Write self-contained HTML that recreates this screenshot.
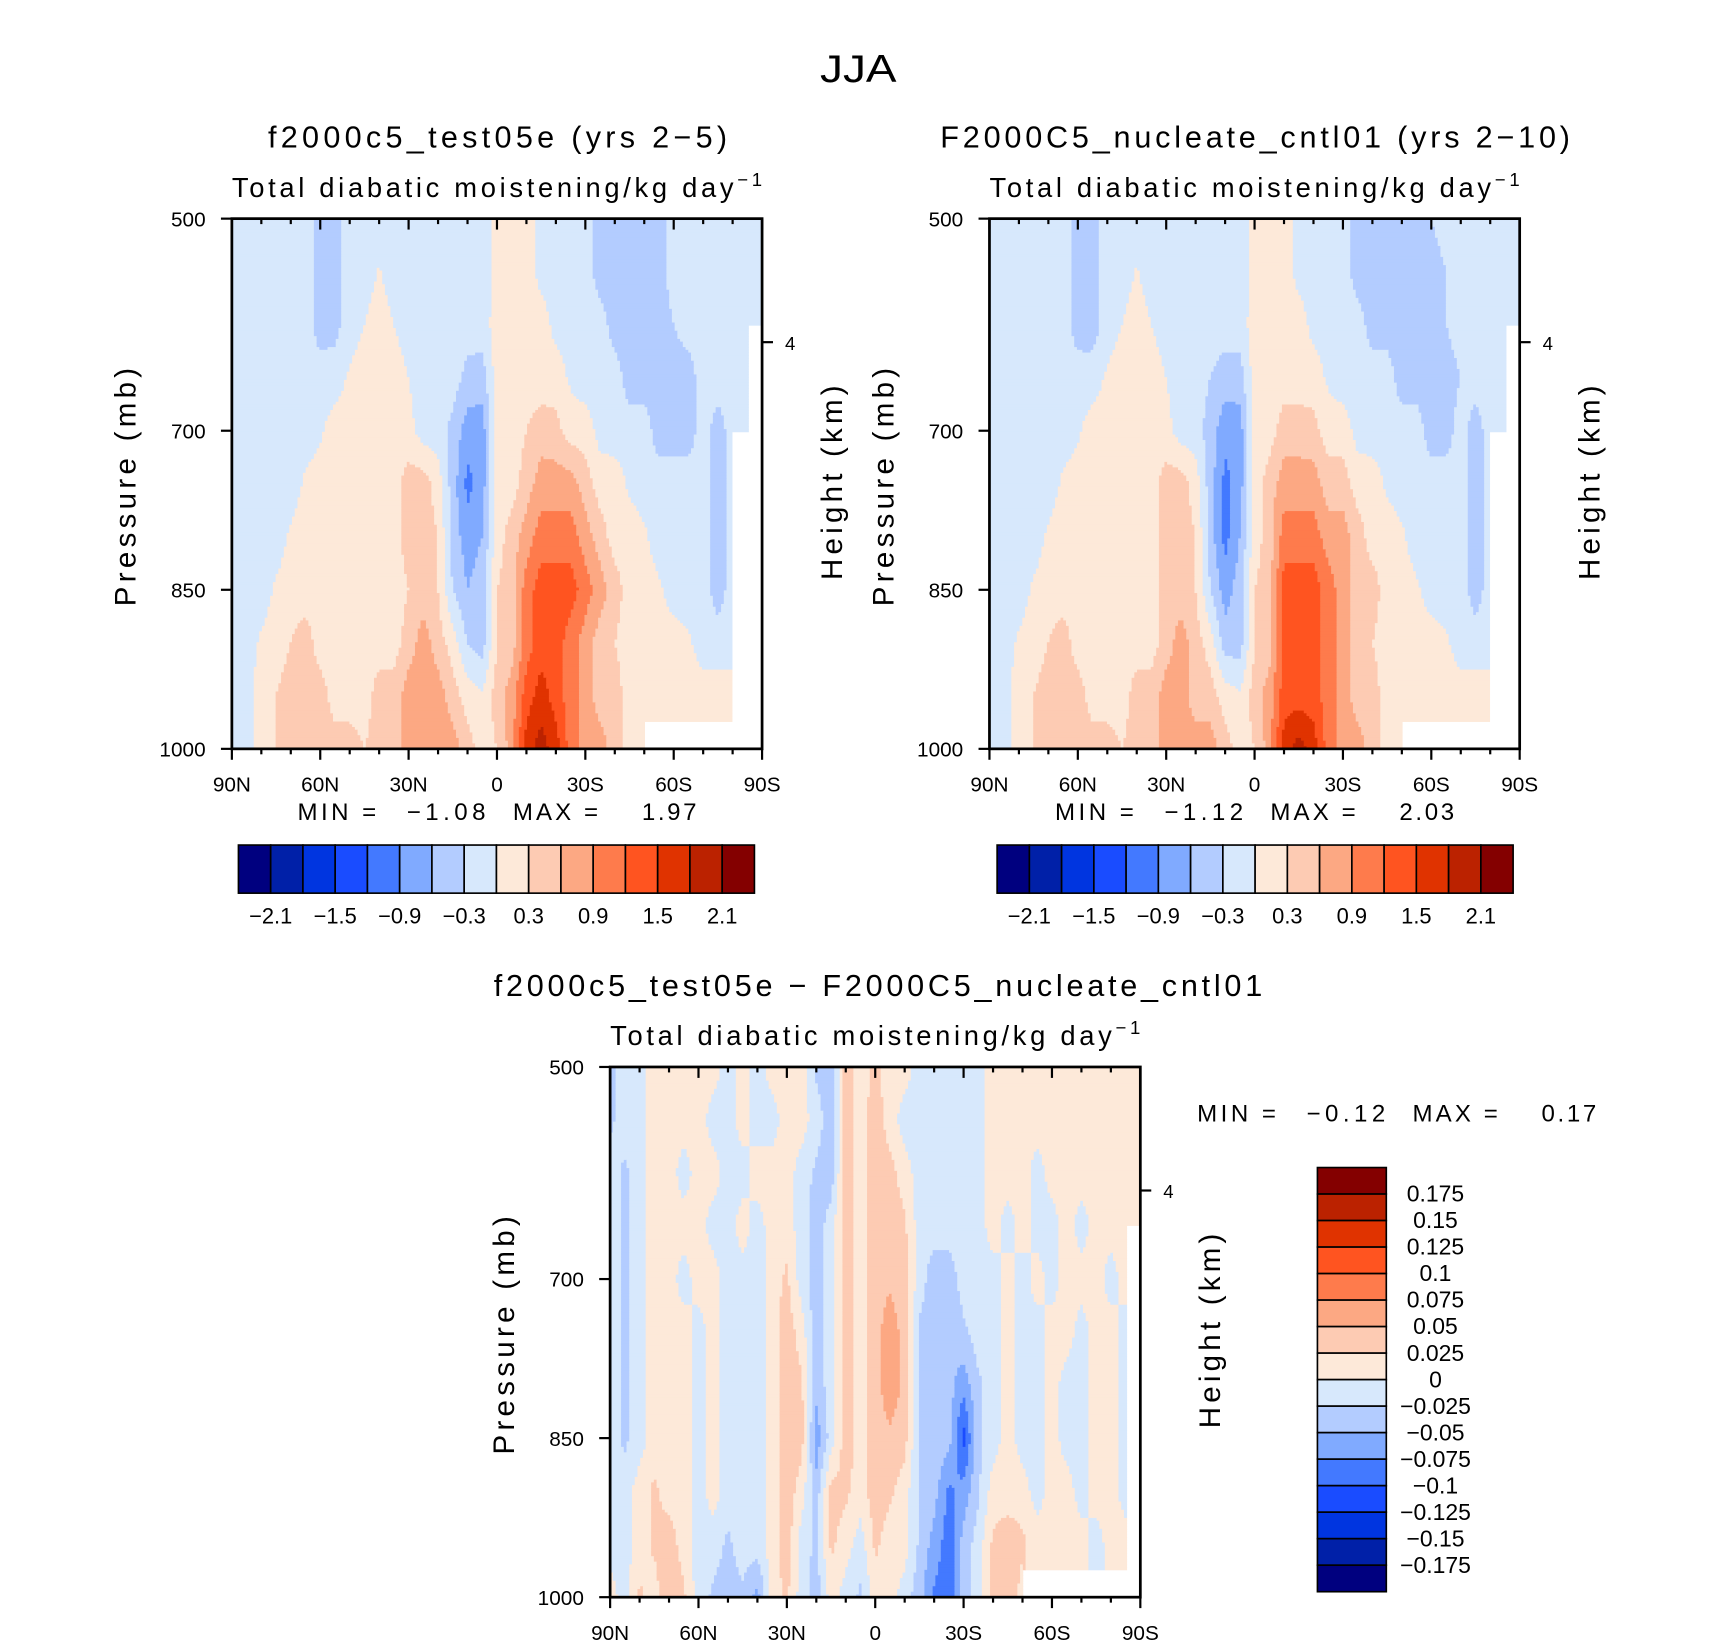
<!DOCTYPE html>
<html><head><meta charset="utf-8">
<style>
html,body{margin:0;padding:0;background:#fff;}
svg{display:block;}
text{font-family:"Liberation Sans",sans-serif;fill:#000;}
</style></head>
<body>
<svg id="fig" width="1710" height="1642" viewBox="0 0 1564 1502" xmlns="http://www.w3.org/2000/svg">
<rect width="1564" height="1502" fill="#fff"/>
<text x="785" y="75" font-size="36" text-anchor="middle" textLength="70" lengthAdjust="spacingAndGlyphs">JJA</text>
</svg>
<script>
const latTicks = ["90N","60N","30N","0","30S","60S","90S"];
const pTicks = [500,700,850,1000];
const pLevels = [500,550,600,650,700,750,800,850,900,950,1000];
const colors = ["#00007f","#0020a8","#0035e0","#1a4cff","#4379ff","#80aaff","#b3ccff","#d7e8fc","#fde9d9","#fdcbb3","#fca883","#fe7b4c","#ff5420","#e03300","#bb2200","#840000"];
const levelsAbs = [-2.1,-1.8,-1.5,-1.2,-0.9,-0.6,-0.3,0,0.3,0.6,0.9,1.2,1.5,1.8,2.1];
const levelsDiff = [-0.175,-0.15,-0.125,-0.1,-0.075,-0.05,-0.025,0,0.025,0.05,0.075,0.1,0.125,0.15,0.175];
const cbLabelsAbs = ["\u22122.1","\u22121.5","\u22120.9","\u22120.3","0.3","0.9","1.5","2.1"];
const cbLabelsDiff = ["0.175","0.15","0.125","0.1","0.075","0.05","0.025","0","\u22120.025","\u22120.05","\u22120.075","\u22120.1","\u22120.125","\u22120.15","\u22120.175"];
// latitude grid: 90N..90S every 5 degrees (37 columns); rows are pLevels
const field1 = [
[-.15,-.15,-.15,-.15,-.15,-.15,-.45,-.45,-.15,-.15,-.15,-.15,-.15,-.15,-.15,-.15,-.15,-.3,.15,.15,.15,-.1,-.15,-.15,-.15,-.45,-.45,-.45,-.45,-.45,-.15,-.15,-.15,-.15,-.15,-.15,-.15],
[-.15,-.15,-.15,-.15,-.15,-.15,-.45,-.45,-.15,-.15,.02,-.15,-.15,-.15,-.15,-.15,-.15,-.3,.15,.15,.15,-.1,-.15,-.15,-.15,-.45,-.45,-.45,-.45,-.45,-.15,-.15,-.15,-.15,-.15,-.15,-.15],
[-.15,-.15,-.15,-.15,-.15,-.15,-.45,-.4,-.15,0,.15,0,-.15,-.15,-.15,-.15,-.15,-.15,.15,.15,.15,.15,-.1,-.15,-.15,-.15,-.45,-.45,-.45,-.45,-.3,-.15,-.15,-.15,-.15,-.15,-.15],
[-.15,-.15,-.15,-.15,-.15,-.15,-.15,-.15,.05,.15,.15,.15,0,-.15,-.15,-.15,-.4,-.45,.15,.15,.15,.15,.15,-.05,-.15,-.15,-.15,-.45,-.45,-.45,-.45,-.45,-.15,-.15,-.15,-.15,NaN],
[-.15,-.15,-.15,-.15,-.15,-.15,-.05,.15,.15,.15,.15,.15,.1,-.15,-.15,-.4,-.75,-.75,.1,.15,.3,.45,.4,.15,.15,-.1,-.15,-.15,-.15,-.45,-.45,-.45,-.15,-.45,-.15,-.15,NaN],
[-.15,-.15,-.15,-.15,-.15,.05,.15,.15,.15,.15,.15,.15,.45,.45,.15,-.45,-1.0,-.75,.1,.15,.45,.75,.75,.75,.45,.15,.15,-.05,-.15,-.15,-.15,-.15,-.15,-.45,-.15,NaN,NaN],
[-.15,-.15,-.15,-.15,.05,.15,.15,.15,.15,.15,.15,.15,.45,.45,.3,-.45,-.75,-.6,.15,.45,.75,1.05,1.05,1.05,.75,.45,.15,.15,.05,-.15,-.15,-.15,-.15,-.45,-.15,NaN,NaN],
[-.15,-.15,-.15,.05,.15,.15,.15,.15,.15,.15,.15,.15,.3,.45,.3,-.3,-.6,-.45,.3,.45,1.05,1.35,1.35,1.35,1.05,.75,.45,.15,.15,.05,-.15,-.15,-.15,-.45,-.15,NaN,NaN],
[-.15,-.15,.05,.15,.3,.45,.15,.15,.15,.15,.15,.15,.45,.75,.45,.15,-.3,-.45,.3,.45,1.05,1.35,1.35,1.05,.75,.45,.3,.15,.15,.15,.15,.05,-.15,-.15,-.15,NaN,NaN],
[-.15,-.1,.15,.3,.45,.45,.45,.15,.15,.15,.45,.45,.75,.75,.75,.45,.15,.05,.45,.75,1.35,1.65,1.35,1.05,.75,.45,.45,.15,.15,.15,.15,.15,.15,.15,.15,NaN,NaN],
[-.15,-.15,.15,.3,.45,.45,.45,.45,.45,.3,.45,.45,.75,.75,.75,.75,.45,.15,.3,.75,1.65,1.95,1.65,1.05,.75,.75,.45,.15,.15,NaN,NaN,NaN,NaN,NaN,NaN,NaN,NaN]
];
const field2 = [
[-.15,-.15,-.15,-.15,-.15,-.15,-.45,-.45,-.15,-.15,-.15,-.15,-.15,-.15,-.15,-.15,-.15,-.3,.15,.15,.15,-.1,-.15,-.15,-.15,-.45,-.45,-.45,-.45,-.45,-.3,-.15,-.15,-.15,-.15,-.15,-.15],
[-.15,-.15,-.15,-.15,-.15,-.15,-.45,-.45,-.15,-.15,.02,-.15,-.15,-.15,-.15,-.15,-.15,-.3,.15,.15,.15,-.1,-.15,-.15,-.15,-.45,-.45,-.45,-.45,-.45,-.45,-.3,-.15,-.15,-.15,-.15,-.15],
[-.15,-.15,-.15,-.15,-.15,-.15,-.45,-.45,-.15,0,.15,0,-.15,-.15,-.15,-.15,-.15,-.15,.15,.15,.15,.15,-.1,-.15,-.15,-.15,-.45,-.45,-.45,-.45,-.45,-.3,-.15,-.15,-.15,-.15,-.15],
[-.15,-.15,-.15,-.15,-.15,-.15,-.15,-.15,.05,.15,.15,.15,0,-.15,-.15,-.3,-.45,-.45,.15,.15,.15,.15,.15,-.05,-.15,-.15,-.15,-.15,-.45,-.45,-.45,-.45,-.3,-.15,-.15,-.15,NaN],
[-.15,-.15,-.15,-.15,-.15,-.15,-.05,.15,.15,.15,.15,.15,.1,-.15,-.15,-.45,-.8,-.75,.1,.15,.45,.45,.4,.15,.15,-.1,-.15,-.15,-.15,-.15,-.45,-.45,-.15,-.45,-.15,-.15,NaN],
[-.15,-.15,-.15,-.15,-.15,.05,.15,.15,.15,.15,.15,.15,.45,.45,.15,-.45,-1.0,-.75,.1,.45,.75,.75,.75,.45,.45,.15,.15,-.05,-.15,-.15,-.15,-.15,-.15,-.45,-.15,NaN,NaN],
[-.15,-.15,-.15,-.15,.05,.15,.15,.15,.15,.15,.15,.15,.45,.45,.3,-.45,-1.0,-.6,.15,.45,1.05,1.05,1.05,.75,.75,.45,.15,.15,.05,-.15,-.15,-.15,-.15,-.45,-.15,NaN,NaN],
[-.15,-.15,-.15,.05,.15,.15,.15,.15,.15,.15,.15,.15,.45,.45,.3,-.3,-.75,-.45,.3,.45,1.35,1.35,1.35,1.05,.75,.45,.45,.15,.15,.05,-.15,-.15,-.15,-.45,-.15,NaN,NaN],
[-.15,-.15,.05,.15,.3,.45,.15,.15,.15,.15,.15,.15,.45,.75,.45,.15,-.45,-.45,.3,.45,1.35,1.35,1.35,1.05,.75,.45,.3,.15,.15,.15,.15,.05,-.15,-.15,-.15,NaN,NaN],
[-.15,-.1,.15,.3,.45,.45,.45,.15,.15,.15,.45,.45,.75,.75,.45,.45,.15,.05,.45,.75,1.35,1.35,1.35,1.05,.75,.45,.45,.15,.15,.15,.15,.15,.15,.15,.15,NaN,NaN],
[-.15,-.15,.15,.3,.45,.45,.45,.45,.45,.3,.45,.45,.75,.75,.75,.75,.45,.15,.3,.75,1.65,1.95,1.65,1.05,.75,.75,.45,.15,.15,NaN,NaN,NaN,NaN,NaN,NaN,NaN,NaN]
];
const field3 = [
[-.03,-.0125,-.0125,.0125,.0125,.0125,.0125,.0125,-.0125,.0125,-.0125,.0125,.0125,.0125,-.03,-.04,.04,.0125,.03,.0125,.0125,-.0125,-.0125,-.0125,-.0125,-.0125,.0125,.0125,.0125,.0125,.0125,.0125,.0125,.0125,.0125,.0125,.0125],
[-.03,-.0125,-.0125,.0125,.0125,.0125,.0125,-.0125,-.0125,.0125,-.0125,-.0125,.0125,.0125,-.0125,-.04,.04,.0125,.04,.0125,-.0125,-.0125,-.0125,-.0125,-.0125,-.0125,.0125,.0125,.0125,.0125,.0125,.0125,.0125,.0125,.0125,.0125,.0125],
[-.0125,-.03,-.0125,.0125,.0125,-.0125,.0125,.0125,-.0125,-.0125,.0125,.0125,.0125,-.0125,-.03,-.04,.04,.0125,.04,.035,.0125,-.0125,-.0125,-.0125,-.0125,-.0125,.0125,.0125,.0125,-.0125,.0125,.0125,.0125,.0125,.0125,.0125,.0125],
[-.0125,-.03,-.0125,.0125,.0125,.0125,.0125,-.0125,-.0125,.0125,-.0125,.0125,.0125,-.0125,-.04,-.0125,.04,.0125,.04,.04,.03,-.0125,-.0125,-.0125,-.0125,-.0125,.0125,-.0125,.0125,-.0125,-.0125,.0125,-.0125,.0125,.0125,.0125,.0125],
[-.0125,-.03,-.0125,.0125,.0125,-.0125,.0125,.0125,-.0125,-.0125,-.0125,.0125,.03,-.0125,-.04,-.0125,.04,.0125,.04,.045,.035,-.0125,-.04,-.04,-.0125,-.0125,-.0125,.0125,-.0125,.0125,-.0125,.0125,.0125,.0125,-.0125,.0125,NaN],
[-.0125,-.03,-.0125,.0125,.0125,.0125,-.0125,.0125,-.0125,-.0125,-.0125,.0125,.04,.0125,-.04,-.0125,.04,.0125,.04,.065,.04,-.03,-.04,-.05,-.03,-.0125,-.0125,.0125,-.0125,-.0125,.0125,.0125,-.0125,.0125,.0125,-.0125,NaN],
[-.0125,-.03,-.0125,.0125,.0125,.0125,-.0125,.0125,-.0125,-.0125,-.0125,.0125,.04,.03,-.04,-.0125,.04,.0125,.04,.065,.045,-.03,-.04,-.04,-.065,-.03,-.0125,.0125,-.0125,-.0125,.0125,-.0125,-.0125,.0125,.0125,-.0125,NaN],
[-.0125,-.03,-.0125,.0125,.0125,.0125,-.0125,.0125,-.0125,-.0125,-.0125,.0125,.04,.035,-.065,-.0125,.04,.0125,.04,.045,.035,-.03,-.03,-.04,-.11,-.03,-.0125,.0125,-.0125,-.0125,.0125,-.0125,-.0125,.0125,.0125,-.0125,NaN],
[-.0125,-.0125,.0125,.03,.0125,.0125,-.0125,.0125,-.0125,-.0125,-.0125,.0125,.04,.0125,-.04,.035,.03,.0125,.04,.03,.0125,-.03,-.04,-.08,-.065,-.03,.0125,.0125,.0125,-.0125,.0125,.0125,-.0125,.0125,.0125,-.0125,NaN],
[-.0125,-.0125,.0125,.03,.04,.0125,-.0125,-.0125,-.03,-.0125,-.0125,.0125,.04,-.0125,-.03,.03,.0125,-.0125,.03,.0125,.0125,-.03,-.06,-.09,-.04,-.0125,.03,.04,.03,.0125,.0125,.0125,.0125,-.0125,.0125,.0125,NaN],
[.0125,-.0125,.03,.0125,.05,.03,-.0125,-.03,-.04,-.03,-.06,.0125,.03,-.0125,-.04,.0125,-.0125,-.03,.0125,.0125,-.0125,-.04,-.08,-.09,-.04,-.0125,.04,.05,.0125,NaN,NaN,NaN,NaN,NaN,NaN,.0125,NaN]
];

const NS = "http://www.w3.org/2000/svg";
const svg = document.getElementById("fig");
function mk(tag, attrs, parent){
  const e = document.createElementNS(NS, tag);
  for (const k in attrs) e.setAttribute(k, attrs[k]);
  (parent||svg).appendChild(e);
  return e;
}
function txt(s, x, y, size, anchor, parent, rot, len){
  const t = mk("text", {x:x, y:y, "font-size":size, "text-anchor":anchor||"start"}, parent);
  if (rot) t.setAttribute("transform", "rotate(-90 "+x+" "+y+")");
  if (len){ t.setAttribute("textLength", len); t.setAttribute("lengthAdjust","spacing"); }
  t.textContent = s;
  return t;
}
function classOf(v, lev){ let c=0; for (const l of lev) if (v>=l) c++; return c; }

function drawPanel(opt){
  const L=opt.x, T=opt.y, W=485, H=485;
  const g = mk("g", {});
  
  
  const xOf = lat => L + (90-lat)/180*W;
  const yOf = p => T + (p-500)/500*H;
  const field = opt.field, lev = opt.levels;
  const nc = field[0].length, nr = field.length;
  const fill = mk("g", {}, g);
  
  
  const step = 2.5;
  const nx = Math.round(W/step), ny = Math.round(H/step);
  for (let j=0;j<ny;j++){
    const yc = T + (j+0.5)*step;
    const p = 500 + (yc-T)/H*500;
    let r = (p-500)/50; let r0=Math.min(Math.floor(r),nr-2); let fr=r-r0;
    let runStart=0, runCls=null;
    const flush=(end)=>{
      if (runCls!==null && runCls>=0){
        const rc = mk("rect", {x:(L+runStart*step).toFixed(2), y:(T+j*step).toFixed(2), width:((end-runStart)*step+0.4).toFixed(2), height:(step+0.4).toFixed(2), fill:colors[runCls]}, fill);
        
        
      }
    };
    for (let i=0;i<nx;i++){
      const xc = L + (i+0.5)*step;
      const lat = 90 - (xc-L)/W*180;
      let c = (90-lat)/5; let c0=Math.min(Math.floor(c),nc-2); let fc=c-c0;
      const a=field[r0][c0], b=field[r0][c0+1], d=field[r0+1][c0], e=field[r0+1][c0+1];
      let cls;
      if (isNaN(a)||isNaN(b)||isNaN(d)||isNaN(e)) {
        // missing only in lower half of final row band
        if (r0===nr-2 && fr<0.5 && !isNaN(a) && !isNaN(b)) { const v=a*(1-fc)+b*fc; cls=classOf(v,lev); }
        else cls=-1;
      }
      else { const v=(a*(1-fc)+b*fc)*(1-fr)+(d*(1-fc)+e*fc)*fr; cls=classOf(v,lev); }
      if (cls!==runCls){ flush(i); runStart=i; runCls=cls; }
    }
    flush(nx);
  }
  const fr_ = mk("rect", {x:L, y:T, width:W, height:H, fill:"none", stroke:"#000", "stroke-width":2.5}, g);
  
  
  for (let k=0;k<=18;k++){
    const lat=90-k*10, x=xOf(lat), major=(k%3===0);
    const len = major?10:5;
    mk("line",{x1:x,y1:T+H,x2:x,y2:T+H+len,stroke:"#000","stroke-width":2},g);
    mk("line",{x1:x,y1:T,x2:x,y2:T+len,stroke:"#000","stroke-width":2},g);
  }
  latTicks.forEach((s,k)=>{
    const t = txt(s, xOf(90-k*30), T+H+39, 19, "middle", g);
    
    
  });
  pTicks.forEach(p=>{
    const y=yOf(p);
    mk("line",{x1:L-10,y1:y,x2:L,y2:y,stroke:"#000","stroke-width":2},g);
    const t = txt(String(p), L-24, y+7, 19, "end", g);
    
    
  });
  mk("line",{x1:L+W,y1:T+113,x2:L+W+10,y2:T+113,stroke:"#000","stroke-width":2},g);
  txt("4", L+W+21, T+120, 17, "start", g);
  const yt = txt("Pressure (mb)", L-88, T+H/2+3, 27, "middle", g, true, 218);
  
  
  const ht = txt("Height (km)", L+W+73, T+H/2-1, 27, "middle", g, true, 178);
  
  
  const tt = txt(opt.title, opt.tcx, T-65, 28, "middle", g, false, opt.tlen);
  
  
  const st = mk("text", {x:L+W/2, y:T-20, "font-size":25, "text-anchor":"middle", textLength:485, lengthAdjust:"spacing"}, g);
  
  
  st.appendChild(document.createTextNode("Total diabatic moistening/kg day"));
  const sp = document.createElementNS(NS,"tspan"); sp.setAttribute("dy","-10"); sp.setAttribute("font-size","17"); sp.textContent="\u22121"; st.appendChild(sp);
}

function minmax(x,y,mn,mx){
  txt("MIN =", x, y, 22, "start", null, false, 72);
  txt(mn, x+100, y, 22, "start", null, false, 72);
  txt("MAX =", x+197, y, 22, "start", null, false, 78);
  txt(mx, x+315, y, 22, "start", null, false, 50);
}

function hColorbar(x0,y0){
  const g = mk("g",{});
  
  
  const w=472/16;
  colors.forEach((c,k)=>{
    const r = mk("rect",{x:x0+k*w,y:y0,width:w,height:44,fill:c,stroke:"#000","stroke-width":1.5},g);
    
    
  });
  cbLabelsAbs.forEach((s,k)=>{
    const t = txt(s, x0+(2*k+1)*w, y0+72, 20, "middle", g);
    
    
  });
}
function vColorbar(x0,y0){
  const g = mk("g",{});
  
  
  const h=388/16;
  colors.slice().reverse().forEach((c,k)=>{
    const r = mk("rect",{x:x0,y:y0+k*h,width:63,height:h,fill:c,stroke:"#000","stroke-width":1.5},g);
    
    
  });
  cbLabelsDiff.forEach((s,k)=>{
    const t = txt(s, x0+108, y0+(k+1)*h+7, 21, "middle", g);
    
    
  });
}

drawPanel({name:"panel-test05e", x:212, y:200, field:field1, levels:levelsAbs, title:"f2000c5_test05e (yrs 2\u22125)", tcx:455, tlen:420});
drawPanel({name:"panel-cntl01", x:905, y:200, field:field2, levels:levelsAbs, title:"F2000C5_nucleate_cntl01 (yrs 2\u221210)", tcx:1148, tlen:576});
drawPanel({name:"panel-difference", x:558, y:976, field:field3, levels:levelsDiff, title:"f2000c5_test05e \u2212 F2000C5_nucleate_cntl01", tcx:803, tlen:703});
minmax(272,750,"\u22121.08","1.97");
minmax(965,750,"\u22121.12","2.03");
minmax(1095,1026,"\u22120.12","0.17");
hColorbar(218,773);
hColorbar(912,773);
vColorbar(1205,1068);
</script>
</body></html>
